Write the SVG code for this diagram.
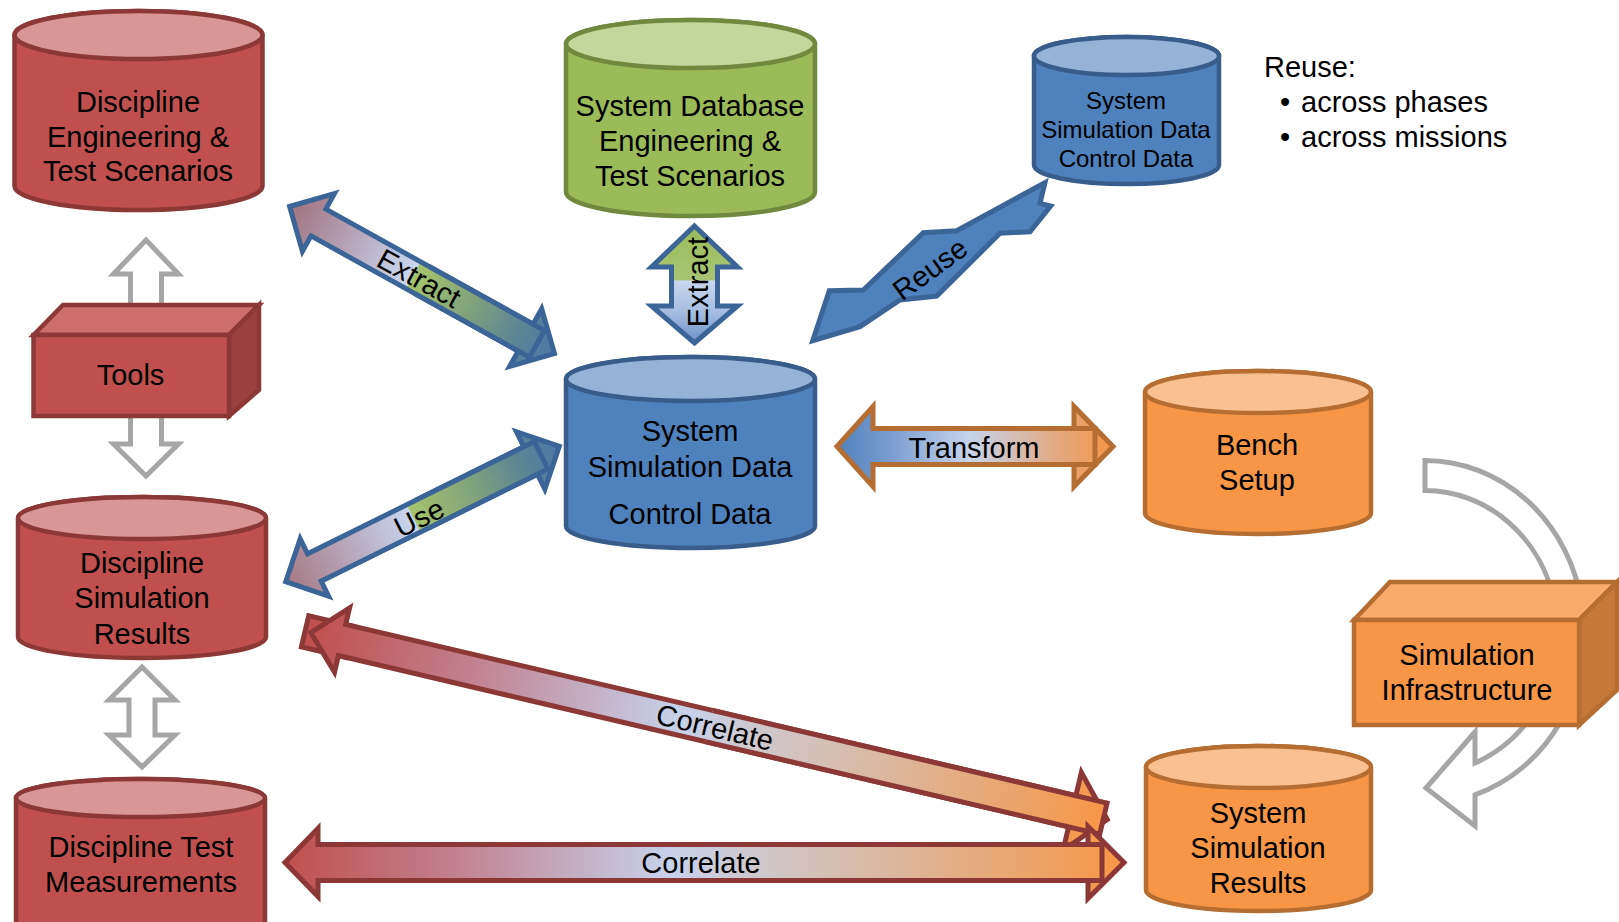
<svg xmlns="http://www.w3.org/2000/svg" width="1619" height="922" viewBox="0 0 1619 922">
  <defs>
    <style>
      .t { font-family: "Liberation Sans", Arial, sans-serif; font-size: 29px; fill: #000; text-anchor: middle; }
      .ts { font-size: 24px; }
      .tl { text-anchor: start; }
      .red .body { fill: #C0504D; stroke: #8C3836; stroke-width: 4.5; }
      .red .lid { fill: #D99694; stroke: #8C3836; stroke-width: 4.5; }
      .green .body { fill: #9BBB59; stroke: #71893F; stroke-width: 4.5; }
      .green .lid { fill: #C3D69B; stroke: #71893F; stroke-width: 4.5; }
      .blue .body { fill: #4F81BD; stroke: #385D8A; stroke-width: 4.5; }
      .blue .lid { fill: #95B3D7; stroke: #385D8A; stroke-width: 4.5; }
      .orange .body { fill: #F79646; stroke: #B66D31; stroke-width: 4.5; }
      .orange .lid { fill: #FAC090; stroke: #B66D31; stroke-width: 4.5; }
      .gray { fill: #FFFFFF; stroke: #A6A6A6; stroke-width: 5; stroke-linejoin: miter; }
      .ab { stroke: #3B6497; stroke-width: 5; stroke-linejoin: miter; }
      .ar { stroke: #8C3836; stroke-width: 5; stroke-linejoin: miter; }
      .ao { stroke: #B66D31; stroke-width: 5; stroke-linejoin: miter; }
    </style>
    <linearGradient id="gExt" gradientUnits="userSpaceOnUse" x1="0" y1="0" x2="303" y2="0">
      <stop offset="0" stop-color="#A0717D"/>
      <stop offset="0.38" stop-color="#C3C6DF"/>
      <stop offset="0.465" stop-color="#C8D6EE"/>
      <stop offset="0.47" stop-color="#A6C46C"/>
      <stop offset="0.68" stop-color="#80A37C"/>
      <stop offset="0.86" stop-color="#5C8595"/>
      <stop offset="1" stop-color="#4C78A6"/>
    </linearGradient>
    <linearGradient id="gUse" gradientUnits="userSpaceOnUse" x1="0" y1="0" x2="305.3" y2="0">
      <stop offset="0" stop-color="#A67983"/>
      <stop offset="0.38" stop-color="#C2C5DF"/>
      <stop offset="0.465" stop-color="#C8D6EE"/>
      <stop offset="0.47" stop-color="#A6C46C"/>
      <stop offset="0.68" stop-color="#80A37C"/>
      <stop offset="0.86" stop-color="#5C8595"/>
      <stop offset="1" stop-color="#4C78A6"/>
    </linearGradient>
    <linearGradient id="gVert" gradientUnits="userSpaceOnUse" x1="0" y1="226" x2="0" y2="343">
      <stop offset="0" stop-color="#9BBB59"/>
      <stop offset="0.46" stop-color="#A8C473"/>
      <stop offset="0.47" stop-color="#C8D7EE"/>
      <stop offset="0.75" stop-color="#A3BBE0"/>
      <stop offset="1" stop-color="#6A90C6"/>
    </linearGradient>
    <linearGradient id="gCorD" gradientUnits="userSpaceOnUse" x1="0" y1="0" x2="818" y2="0">
      <stop offset="0" stop-color="#C0504D"/>
      <stop offset="0.2" stop-color="#C2808F"/>
      <stop offset="0.46" stop-color="#C6D2EA"/>
      <stop offset="0.75" stop-color="#DEB496"/>
      <stop offset="1" stop-color="#F79646"/>
    </linearGradient>
    <linearGradient id="gCorH" gradientUnits="userSpaceOnUse" x1="285" y1="0" x2="1124" y2="0">
      <stop offset="0" stop-color="#C0504D"/>
      <stop offset="0.2" stop-color="#C2808F"/>
      <stop offset="0.46" stop-color="#C6D2EA"/>
      <stop offset="0.75" stop-color="#DEB496"/>
      <stop offset="1" stop-color="#F79646"/>
    </linearGradient>
    <linearGradient id="gTrans" gradientUnits="userSpaceOnUse" x1="837" y1="0" x2="1113" y2="0">
      <stop offset="0" stop-color="#4F81BD"/>
      <stop offset="0.2" stop-color="#7C9ECF"/>
      <stop offset="0.48" stop-color="#C6D4EC"/>
      <stop offset="0.8" stop-color="#E3A981"/>
      <stop offset="1" stop-color="#F79646"/>
    </linearGradient>
  </defs>

  <rect width="1619" height="922" fill="#FFFFFF"/>

  <!-- connectors -->
  <g id="connectors">
    <!-- grey two-way arrows on the left column (pass behind the Tools box) -->
    <polygon class="gray" points="146,240 178.5,274 161.5,274 161.5,444 178.5,444 146,476 113.5,444 130.5,444 130.5,274 113.5,274"/>
    <polygon class="gray" points="142,667 175,700 155,700 155,735 175,735 142,767 109,735 129,735 129,700 109,700"/>

    <!-- grey circular arrow around the simulation infrastructure -->
    <path class="gray" d="M1425,460.5 A159,171.5 0 0 1 1475,794.8 L1475,826 L1426,788 L1475,732 L1475,763 A132.6,141.5 0 0 0 1425,490.5 Z"/>

    <!-- Extract (diagonal) -->
    <g transform="translate(289.6,206.5) rotate(29.05)">
      <polygon class="ab" fill="url(#gExt)" points="0,0 33,-33 33,-15.3 270,-15.3 270,-33 303,0 270,33 270,15.3 33,15.3 33,33"/>
      <path class="ab" fill="url(#gExt)" d="M151,-15.3 H283 V15.3 H151"/>
      <text class="t" x="148" y="10">Extract</text>
    </g>

    <!-- Extract (vertical) -->
    <polygon class="ab" fill="url(#gVert)" points="694.5,226 737.5,267 717.5,267 717.5,306 737.5,306 694.5,343 651.5,306 671.5,306 671.5,267 651.5,267"/>
    <text class="t" transform="translate(708,282) rotate(-90)" x="0" y="0">Extract</text>

    <!-- Reuse -->
    <polygon class="ab" fill="#4F81BD" points="812.7,340.7 829.3,290.7 863.3,290 923.3,232.7 956.7,230.7 1045,182.7 1040,203.3 1050.7,206 1030,231.7 1000,233.3 936.7,296 900,300 860,326.7"/>
    <text class="t" transform="translate(930,269) rotate(-36)" x="0" y="10">Reuse</text>

    <!-- Use -->
    <g transform="translate(285.7,581.7) rotate(-26.33)">
      <polygon class="ab" fill="url(#gUse)" points="0,0 32,-32 32,-15.3 273.3,-15.3 273.3,-32 305.3,0 273.3,32 273.3,15.3 32,15.3 32,32"/>
      <path class="ab" fill="url(#gUse)" d="M152,-15.3 H285 V15.3 H152"/>
      <text class="t" x="148" y="12">Use</text>
    </g>

    <!-- Transform -->
    <polygon class="ao" fill="url(#gTrans)" points="837,446.5 873,406.5 873,428.5 1074,428.5 1074,406.5 1113,446.5 1074,486.5 1074,464.5 873,464.5 873,486.5"/>
    <path class="ao" fill="url(#gTrans)" d="M975,428.5 H1095 V464.5 H975"/>
    <text class="t" x="974" y="457.5">Transform</text>

    <!-- Correlate (diagonal) -->
    <g transform="translate(310.9,632.7) rotate(13.2)">
      <rect class="ar" fill="url(#gCorD)" x="-6" y="-16" width="46" height="32"/>
      <polygon class="ar" fill="url(#gCorD)" points="0,0 32,-33 32,-16 782,-16 782,-40 818,0 782,40 782,16 32,16 32,33"/>
      <path class="ar" fill="url(#gCorD)" d="M409,-16 H814 V16 H409"/>
      <text class="t" x="415" y="10">Correlate</text>
    </g>

    <!-- Correlate (horizontal) -->
    <polygon class="ar" fill="url(#gCorH)" points="285,862.5 318,828.5 318,844.5 1088,844.5 1088,826.5 1124,862.5 1088,898.5 1088,880.5 318,880.5 318,896.5"/>
    <path class="ar" fill="url(#gCorH)" d="M700,844.5 H1102 V880.5 H700"/>
    <text class="t" x="701" y="873">Correlate</text>
  </g>

  <!-- nodes -->
  <g id="discipline-engineering" class="red">
    <path class="body" d="M14.5,35 L14.5,186 A124,24 0 0 0 262.5,186 L262.5,35 A124,24 0 0 0 14.5,35 Z"/>
    <ellipse class="lid" cx="138.5" cy="35" rx="124" ry="24"/>
    <text class="t" x="138" y="112">Discipline</text>
    <text class="t" x="138" y="146.5">Engineering &amp;</text>
    <text class="t" x="138" y="181">Test Scenarios</text>
  </g>

  <g id="tools">
    <polygon fill="#CD6E6B" stroke="#8C3836" stroke-width="4.5" stroke-linejoin="miter" points="33.5,335 63,305 259,305 229,335"/>
    <polygon fill="#9A403E" stroke="#8C3836" stroke-width="4.5" stroke-linejoin="miter" points="229,335 259,305 259,390 229,416"/>
    <rect x="33.5" y="335" width="195.5" height="81" fill="#C0504D" stroke="#8C3836" stroke-width="4.5"/>
    <text class="t" x="130.5" y="385">Tools</text>
  </g>

  <g id="discipline-simulation-results" class="red">
    <path class="body" d="M18,518 L18,637 A124,21 0 0 0 266,637 L266,518 A124,21 0 0 0 18,518 Z"/>
    <ellipse class="lid" cx="142" cy="518" rx="124" ry="21"/>
    <text class="t" x="142" y="573">Discipline</text>
    <text class="t" x="142" y="608">Simulation</text>
    <text class="t" x="142" y="644">Results</text>
  </g>

  <g id="discipline-test-measurements" class="red">
    <path class="body" d="M16,798 L16,940 A124.5,19 0 0 0 265,940 L265,798 A124.5,19 0 0 0 16,798 Z"/>
    <ellipse class="lid" cx="140.5" cy="798" rx="124.5" ry="19"/>
    <text class="t" x="141" y="857">Discipline Test</text>
    <text class="t" x="141" y="892">Measurements</text>
  </g>

  <g id="system-database" class="green">
    <path class="body" d="M566,44 L566,192 A124.5,24 0 0 0 815,192 L815,44 A124.5,24 0 0 0 566,44 Z"/>
    <ellipse class="lid" cx="690.5" cy="44" rx="124.5" ry="24"/>
    <text class="t" x="690" y="116">System Database</text>
    <text class="t" x="690" y="151">Engineering &amp;</text>
    <text class="t" x="690" y="186">Test Scenarios</text>
  </g>

  <g id="system-simulation-data" class="blue">
    <path class="body" d="M566,379 L566,526 A124.5,22 0 0 0 815,526 L815,379 A124.5,22 0 0 0 566,379 Z"/>
    <ellipse class="lid" cx="690.5" cy="379" rx="124.5" ry="22"/>
    <text class="t" x="690" y="441">System</text>
    <text class="t" x="690" y="477">Simulation Data</text>
    <text class="t" x="690" y="524">Control Data</text>
  </g>

  <g id="reused-simulation-data" class="blue">
    <path class="body" d="M1034,56 L1034,165 A92.5,19 0 0 0 1219,165 L1219,56 A92.5,19 0 0 0 1034,56 Z"/>
    <ellipse class="lid" cx="1126.5" cy="56" rx="92.5" ry="19"/>
    <text class="t ts" x="1126" y="109">System</text>
    <text class="t ts" x="1126" y="138">Simulation Data</text>
    <text class="t ts" x="1126" y="167">Control Data</text>
  </g>

  <g id="reuse-note">
    <text class="t tl" x="1264" y="77">Reuse:</text>
    <text class="t tl" x="1280" y="112">•</text>
    <text class="t tl" x="1301" y="112">across phases</text>
    <text class="t tl" x="1280" y="147">•</text>
    <text class="t tl" x="1301" y="147">across missions</text>
  </g>

  <g id="bench-setup" class="orange">
    <path class="body" d="M1145,392 L1145,513 A113,21 0 0 0 1371,513 L1371,392 A113,21 0 0 0 1145,392 Z"/>
    <ellipse class="lid" cx="1258" cy="392" rx="113" ry="21"/>
    <text class="t" x="1257" y="455">Bench</text>
    <text class="t" x="1257" y="490">Setup</text>
  </g>

  <g id="simulation-infrastructure">
    <polygon fill="#F9AB6B" stroke="#B66D31" stroke-width="4.5" stroke-linejoin="miter" points="1354,620 1390,582 1617,582 1579,620"/>
    <polygon fill="#C67838" stroke="#B66D31" stroke-width="4.5" stroke-linejoin="miter" points="1579,620 1617,582 1617,690 1579,725"/>
    <rect x="1354" y="620" width="225" height="105" fill="#F79646" stroke="#B66D31" stroke-width="4.5"/>
    <text class="t" x="1467" y="665">Simulation</text>
    <text class="t" x="1467" y="700">Infrastructure</text>
  </g>

  <g id="system-simulation-results" class="orange">
    <path class="body" d="M1146,767 L1146,890 A112.5,21 0 0 0 1371,890 L1371,767 A112.5,21 0 0 0 1146,767 Z"/>
    <ellipse class="lid" cx="1258.5" cy="767" rx="112.5" ry="21"/>
    <text class="t" x="1258" y="823">System</text>
    <text class="t" x="1258" y="858">Simulation</text>
    <text class="t" x="1258" y="893">Results</text>
  </g>
</svg>
